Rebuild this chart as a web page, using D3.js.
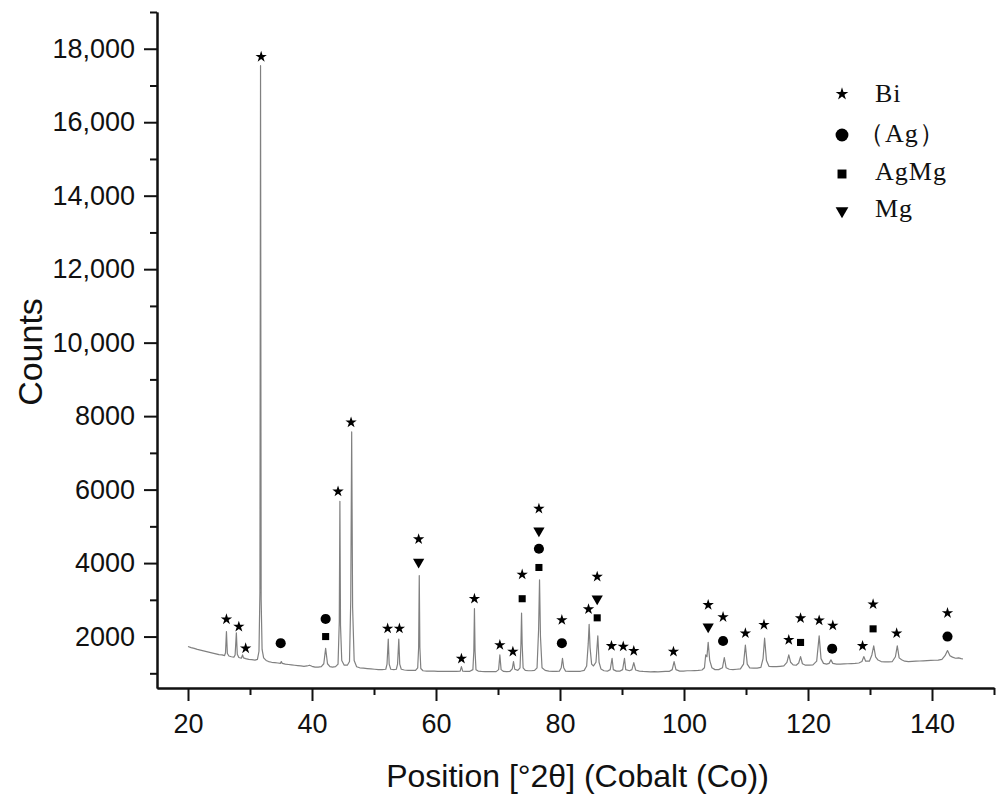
<!DOCTYPE html>
<html>
<head>
<meta charset="utf-8">
<script src="https://cdn.jsdelivr.net/npm/d3@7"></script>
<style>
  body { margin: 0; background: #fff; }
  svg { display: block; }
</style>
</head>
<body>
<div id="chart"></div>
<script>
var width = 1003;
var height = 799;
var margin = { top: 12, right: 9, bottom: 111, left: 157 };

// measured pattern: [2theta, counts]
var profile = [
  [20.0,1730],[20.5,1700],[21.0,1680],[21.5,1650],[22.0,1630],[22.5,1610],[23.0,1590],[23.5,1570],
  [24.0,1550],[24.5,1530],[25.0,1510],[25.5,1500],[25.9,1480],[26.05,1560],[26.2,2135],[26.35,1540],
  [26.6,1470],[27.0,1450],[27.4,1440],[27.6,1500],[27.8,2100],[27.95,1520],[28.2,1430],[28.6,1410],
  [28.8,1500],[28.95,1420],[29.3,1400],[29.8,1380],[30.3,1370],[30.8,1360],[31.2,1380],[31.45,1600],
  [31.6,3200],[31.7,17540],[31.8,3000],[31.95,1650],[32.2,1420],[32.6,1350],[33.0,1320],[33.5,1300],
  [34.0,1290],[34.5,1280],[34.9,1270],[35.05,1320],[35.2,1270],[35.7,1250],[36.2,1240],[36.7,1230],
  [37.2,1220],[37.7,1210],[38.2,1200],[38.7,1190],[39.2,1200],[39.6,1220],[40.0,1190],[40.5,1170],
  [41.0,1170],[41.5,1180],[41.9,1260],[42.2,1680],[42.5,1260],[42.9,1180],[43.3,1170],[43.8,1180],
  [44.2,1250],[44.4,2400],[44.5,5680],[44.6,2300],[44.8,1350],[45.2,1220],[45.7,1220],[46.05,1320],
  [46.25,3000],[46.4,7570],[46.55,2800],[46.8,1350],[47.2,1180],[47.7,1150],[48.3,1140],[48.9,1130],
  [49.5,1120],[50.1,1110],[50.7,1100],[51.3,1100],[51.9,1110],[52.1,1250],[52.3,1930],[52.45,1250],
  [52.7,1110],[53.2,1100],[53.6,1110],[53.8,1250],[54.0,1930],[54.15,1250],[54.4,1110],[54.9,1090],
  [55.5,1080],[56.1,1080],[56.7,1080],[57.05,1150],[57.2,1700],[57.3,3660],[57.4,1700],[57.55,1130],
  [57.9,1070],[58.5,1060],[59.1,1060],[59.7,1060],[60.3,1055],[60.9,1055],[61.5,1050],[62.1,1050],
  [62.7,1050],[63.3,1050],[63.9,1060],[64.1,1180],[64.3,1060],[64.8,1050],[65.4,1050],[65.95,1100],
  [66.1,1600],[66.2,2760],[66.3,1600],[66.45,1100],[66.8,1060],[67.3,1050],[67.9,1045],[68.5,1045],
  [69.1,1045],[69.7,1045],[70.1,1100],[70.3,1500],[70.5,1100],[70.9,1050],[71.4,1045],[71.9,1050],
  [72.3,1120],[72.5,1320],[72.7,1110],[73.2,1080],[73.55,1150],[73.7,1800],[73.8,2640],[73.9,1800],
  [74.05,1150],[74.4,1080],[74.9,1070],[75.4,1070],[75.9,1080],[76.3,1150],[76.55,2200],[76.7,3545],
  [76.85,2000],[77.1,1150],[77.6,1080],[78.2,1060],[78.8,1055],[79.4,1050],[79.9,1060],[80.2,1150],
  [80.4,1410],[80.6,1150],[80.9,1060],[81.5,1050],[82.1,1050],[82.7,1050],[83.3,1055],[83.9,1080],
  [84.3,1200],[84.55,1800],[84.7,2335],[84.85,1700],[85.1,1250],[85.4,1200],[85.8,1300],[86.1,2020],
  [86.3,1300],[86.6,1120],[87.1,1070],[87.7,1060],[88.1,1100],[88.4,1410],[88.6,1100],[89.1,1060],
  [89.7,1060],[90.1,1100],[90.4,1410],[90.6,1100],[91.2,1070],[91.6,1100],[91.9,1290],[92.2,1090],
  [92.8,1060],[93.4,1050],[94.0,1045],[94.6,1040],[95.2,1045],[95.8,1040],[96.4,1045],[97.0,1050],
  [97.6,1050],[98.1,1100],[98.4,1320],[98.7,1100],[99.3,1060],[99.9,1060],[100.5,1070],[101.1,1070],
  [101.7,1075],[102.3,1080],[102.9,1090],[103.3,1150],[103.5,1500],[103.7,1450],[103.9,1845],[104.15,1350],
  [104.5,1150],[105.0,1100],[105.6,1100],[106.2,1150],[106.5,1430],[106.8,1150],[107.3,1110],[107.9,1100],
  [108.5,1110],[109.1,1120],[109.6,1250],[109.9,1770],[110.2,1250],[110.6,1150],[111.2,1140],[111.8,1140],
  [112.4,1160],[112.75,1400],[113.0,1955],[113.3,1350],[113.7,1190],[114.3,1180],[114.9,1180],[115.5,1190],
  [116.1,1200],[116.6,1300],[116.9,1500],[117.2,1300],[117.6,1230],[118.1,1220],[118.5,1280],[118.8,1455],
  [119.1,1260],[119.6,1220],[120.2,1220],[120.8,1230],[121.4,1330],[121.8,2020],[122.1,1400],[122.5,1270],
  [123.0,1250],[123.4,1270],[123.7,1365],[124.0,1270],[124.6,1250],[125.2,1250],[125.8,1255],[126.4,1260],
  [127.0,1265],[127.6,1270],[128.2,1280],[128.7,1320],[129.0,1455],[129.3,1330],[129.9,1330],[130.3,1500],
  [130.6,1745],[130.9,1450],[131.3,1360],[131.8,1320],[132.4,1310],[133.0,1310],[133.6,1320],[134.1,1450],
  [134.4,1745],[134.7,1420],[135.1,1370],[135.6,1330],[136.2,1320],[136.8,1325],[137.4,1330],[138.0,1335],
  [138.6,1340],[139.2,1345],[139.8,1350],[140.4,1355],[141.0,1360],[141.6,1380],[142.1,1480],[142.5,1620],
  [142.9,1480],[143.3,1440],[143.8,1410],[144.3,1420],[144.7,1400],[145.0,1390]
];

// phase markers: [2theta, counts]
var biStars = [
  [26.2,2470],[28.2,2270],[29.3,1680],[31.8,17780],[44.2,5950],[46.3,7830],[52.2,2220],[54.1,2220],
  [57.2,4650],[64.1,1400],[66.2,3030],[70.3,1770],[72.4,1590],[73.9,3690],[76.6,5480],[80.3,2450],
  [84.6,2745],[86.0,3630],[88.3,1745],[90.2,1730],[91.9,1610],[98.3,1590],[103.9,2860],[106.3,2530],
  [109.9,2090],[112.9,2320],[116.9,1910],[118.8,2500],[121.8,2440],[124.0,2300],[128.8,1745],[130.5,2880],
  [134.3,2090],[142.5,2640]
];
var agCircles = [[34.95,1820],[42.2,2480],[76.6,4390],[80.3,1820],[106.3,1880],[123.9,1670],[142.5,2000]];
var agmgSquares = [[42.2,2000],[73.9,3030],[76.6,3880],[86.0,2510],[118.8,1840],[130.5,2210]];
var mgTriangles = [[57.2,4030],[76.6,4880],[86.0,3030],[103.9,2270]];

var xMajor = [20, 40, 60, 80, 100, 120, 140];
var xMinor = [30, 50, 70, 90, 110, 130, 150];
var yMajor = [2000, 4000, 6000, 8000, 10000, 12000, 14000, 16000, 18000];
var yMinor = [1000, 3000, 5000, 7000, 9000, 11000, 13000, 15000, 17000, 19000];

var legendItems = [
  { key: "star", label: "Bi" },
  { key: "circle", label: "（Ag）" },
  { key: "square", label: "AgMg" },
  { key: "triangle", label: "Mg" }
];

var svg = d3.select("#chart").append("svg")
  .attr("width", width)
  .attr("height", height);

var x = d3.scaleLinear().domain([15, 150]).range([margin.left, width - margin.right]);
var y = d3.scaleLinear().domain([600, 19000]).range([height - margin.bottom, margin.top]);

var yFmt = function(d) { return d >= 10000 ? d3.format(",")(d) : String(d); };

// pattern line
svg.append("path")
  .datum(profile)
  .attr("fill", "none")
  .attr("stroke", "#808080")
  .attr("stroke-width", 1.2)
  .attr("stroke-linejoin", "round")
  .attr("d", d3.line().x(function(d) { return x(d[0]); }).y(function(d) { return y(d[1]); }));

// axes
var xAxisG = svg.append("g").attr("transform", "translate(0," + (height - margin.bottom) + ")");
xAxisG.call(d3.axisBottom(x).tickValues(xMinor).tickSize(7).tickSizeOuter(0).tickFormat(""));
xAxisG.append("g").call(d3.axisBottom(x).tickValues(xMajor).tickSize(13).tickSizeOuter(0).tickPadding(13));

var yAxisG = svg.append("g").attr("transform", "translate(" + margin.left + ",0)");
yAxisG.call(d3.axisLeft(y).tickValues(yMinor).tickSize(7).tickSizeOuter(0).tickFormat(""));
yAxisG.append("g").call(d3.axisLeft(y).tickValues(yMajor).tickSize(13).tickSizeOuter(0).tickPadding(9).tickFormat(yFmt));

svg.selectAll(".domain, .tick line").attr("stroke", "#111").attr("stroke-width", 2);
svg.selectAll(".tick text")
  .attr("fill", "#111")
  .style("font-family", "Liberation Sans, Arial, sans-serif")
  .style("font-size", "27px");

// axis titles
svg.append("text")
  .attr("x", (margin.left + width - margin.right) / 2 + 2)
  .attr("y", 787)
  .attr("text-anchor", "middle")
  .style("font-family", "Liberation Sans, Arial, sans-serif")
  .style("font-size", "32px")
  .attr("fill", "#111")
  .text("Position [°2θ] (Cobalt (Co))");

svg.append("text")
  .attr("transform", "translate(42,352) rotate(-90)")
  .attr("text-anchor", "middle")
  .style("font-family", "Liberation Sans, Arial, sans-serif")
  .style("font-size", "34px")
  .attr("fill", "#111")
  .text("Counts");

// markers
var starPath = d3.symbol().type(d3.symbolStar).size(40)();
var circlePath = d3.symbol().type(d3.symbolCircle).size(80)();
var squarePath = d3.symbol().type(d3.symbolSquare).size(50)();
var triPath = d3.symbol().type(d3.symbolTriangle).size(55)();

function drawMarks(data, p, rot) {
  svg.append("g").selectAll("path")
    .data(data)
    .enter().append("path")
    .attr("d", p)
    .attr("fill", "#000")
    .attr("transform", function(d) {
      return "translate(" + x(d[0]) + "," + y(d[1]) + ")" + (rot ? " rotate(180)" : "");
    });
}
drawMarks(biStars, starPath, false);
drawMarks(agCircles, circlePath, false);
drawMarks(agmgSquares, squarePath, false);
drawMarks(mgTriangles, triPath, true);

// legend
var legendSyms = {
  star: { d: d3.symbol().type(d3.symbolStar).size(50)(), rot: false },
  circle: { d: d3.symbol().type(d3.symbolCircle).size(130)(), rot: false },
  square: { d: d3.symbol().type(d3.symbolSquare).size(80)(), rot: false },
  triangle: { d: d3.symbol().type(d3.symbolTriangle).size(70)(), rot: true }
};
var legendY = [94, 135, 174, 211];
var legendBase = [102, 142, 180, 217];

var legend = svg.append("g").attr("class", "legend");
legend.selectAll("path")
  .data(legendItems)
  .enter().append("path")
  .attr("d", function(d) { return legendSyms[d.key].d; })
  .attr("fill", "#000")
  .attr("transform", function(d, i) {
    return "translate(842," + legendY[i] + ")" + (legendSyms[d.key].rot ? " rotate(180)" : "");
  });

legend.selectAll("text")
  .data(legendItems)
  .enter().append("text")
  .attr("x", function(d) { return d.key === "circle" ? 858 : 875; })
  .attr("y", function(d, i) { return legendBase[i]; })
  .style("font-family", "Liberation Serif, Times New Roman, serif")
  .style("font-size", "26px")
  .style("letter-spacing", "1px")
  .attr("fill", "#111")
  .text(function(d) { return d.label; });
</script>
</body>
</html>
